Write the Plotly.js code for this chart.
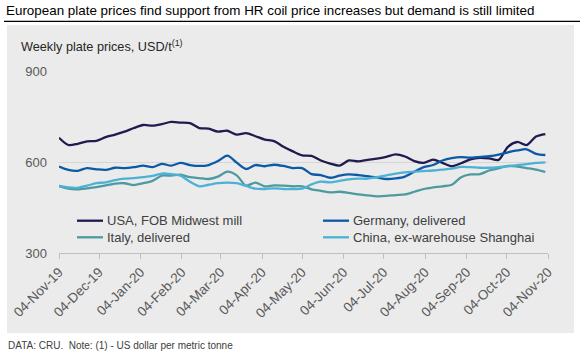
<!DOCTYPE html>
<html>
<head>
<meta charset="utf-8">
<script src="https://cdn.plot.ly/plotly-3.0.1.min.js"></script>
<style>html,body{margin:0;padding:0;background:#fff;}#chart{width:580px;height:354px;}</style>
</head>
<body>
<div id="chart"></div>
<script>
// ---- data ----
const startDate = '2019-11-04';
const weeks = 53;
const usa = [680,656,660,668,670,682,690,700,712,722,720,725,732,730,728,712,710,700,703,690,695,685,674,669,650,635,622,620,605,595,588,605,602,607,611,617,625,618,603,597,608,597,586,596,609,614,612,607,650,666,656,684,692];
const germany = [585,574,571,580,576,574,581,580,583,588,583,594,588,597,590,587,590,603,621,598,577,590,586,591,587,580,580,560,557,548,555,559,557,553,549,544,546,552,568,583,590,605,613,616,614,617,619,624,632,638,642,627,623];
const italy = [521,512,510,513,517,523,529,530,524,530,538,555,555,558,550,547,544,552,568,556,522,532,520,523,522,520,520,510,505,500,502,498,493,490,487,488,491,493,502,511,516,520,525,550,559,560,572,579,587,585,580,575,567];
const china = [521,516,515,522,530,533,540,545,547,550,554,562,560,555,535,520,525,530,532,530,521,512,511,513,511,511,512,526,535,533,538,543,545,545,550,556,562,566,568,570,572,575,578,584,583,581,581,583,586,590,593,597,599];
const seriesNames = ['USA, FOB Midwest mill','Germany, delivered','Italy, delivered','China, ex-warehouse Shanghai'];
const tickDates = ['2019-11-04','2019-12-04','2020-01-04','2020-02-04','2020-03-04','2020-04-04','2020-05-04','2020-06-04','2020-07-04','2020-08-04','2020-09-04','2020-10-04','2020-11-04'];
const tickLabels = ['04-Nov-19','04-Dec-19','04-Jan-20','04-Feb-20','04-Mar-20','04-Apr-20','04-May-20','04-Jun-20','04-Jul-20','04-Aug-20','04-Sep-20','04-Oct-20','04-Nov-20'];
const yTicks = [300,600,900];

// weekly dates
const dates = [];
{
  const d0 = new Date(startDate + 'T00:00:00Z');
  for (let i = 0; i < weeks; i++) {
    const d = new Date(d0.getTime() + i * 7 * 86400000);
    dates.push(d.toISOString().slice(0,10));
  }
}

const colors = ['#1f1b4e','#0c5aa6','#4e9aa0','#4cb1d4'];
const vals = [usa, germany, italy, china];
const traces = vals.map((v, i) => ({
  x: dates, y: v, name: seriesNames[i], type: 'scatter', mode: 'lines',
  line: {color: colors[i], width: 2.3, shape: 'spline', smoothing: 0.8},
  hoverinfo: 'skip', showlegend: false
}));

// pixel helpers for decoration placement
const W = 580, H = 354;
const mL = 59, mR = 32, mT = 71, mB = 101;
const pw = W - mL - mR, ph = H - mT - mB;
const px = x => (x - mL) / pw;
const py = y => (H - mB - y) / ph;

const font = 'Arial, "Liberation Sans", sans-serif';

// legend (2 columns x 2 rows) built from series names/colours
const legCols = [77, 323];
const legRows = [220.7, 237.3];
const legendShapes = [];
const legendAnn = [];
seriesNames.forEach((n, i) => {
  const c = legCols[i % 2], r = legRows[Math.floor(i / 2)];
  legendShapes.push({type: 'line', xref: 'paper', yref: 'paper', x0: px(c), x1: px(c + 26), y0: py(r), y1: py(r),
    line: {color: colors[i], width: 2.3}, layer: 'above'});
  legendAnn.push({text: n, xref: 'paper', yref: 'paper', x: px(c + 28), y: py(r), xanchor: 'left', yanchor: 'middle',
    showarrow: false, font: {family: font, size: 13, color: '#404040'}});
});

const layout = {
  width: W, height: H,
  margin: {l: mL, r: mR, t: mT, b: mB, pad: 0},
  paper_bgcolor: '#ffffff',
  plot_bgcolor: 'rgba(0,0,0,0)',
  font: {family: font, color: '#595959'},
  showlegend: false,
  xaxis: {
    type: 'date', range: [tickDates[0], tickDates[tickDates.length-1]],
    tickmode: 'array', tickvals: tickDates, ticktext: tickLabels,
    tickangle: -45, tickfont: {family: font, size: 13.5, color: '#595959'},
    showgrid: false, zeroline: false,
    showline: true, linecolor: '#bfbfbf', linewidth: 1,
    ticks: 'outside', ticklen: 5, tickcolor: '#bfbfbf', tickwidth: 1
  },
  yaxis: {
    range: [300, 900], tickmode: 'array', tickvals: yTicks,
    tickfont: {family: font, size: 13, color: '#595959'},
    showgrid: true, gridcolor: '#d6d6d6', gridwidth: 1,
    zeroline: false, showline: false, ticks: '', ticklabelstandoff: 11
  },
  shapes: [
    {type: 'rect', xref: 'paper', yref: 'paper', x0: px(7), x1: px(574), y0: py(333), y1: py(25),
     fillcolor: '#ebebeb', line: {width: 0}, layer: 'below'},
    {type: 'line', xref: 'paper', yref: 'paper', x0: px(4), x1: px(580), y0: py(21.3), y1: py(21.3),
     line: {color: '#000000', width: 1.3}, layer: 'above'}
  ].concat(legendShapes),
  annotations: [
    {text: 'European plate prices find support from HR coil price increases but demand is still limited',
     xref: 'paper', yref: 'paper', x: px(4), y: py(10.5), xanchor: 'left', yanchor: 'middle',
     showarrow: false, font: {family: font, size: 13.4, color: '#000000'}},
    {text: 'Weekly plate prices, USD/t<sup>(1)</sup>',
     xref: 'paper', yref: 'paper', x: px(19), y: py(46), xanchor: 'left', yanchor: 'middle',
     showarrow: false, font: {family: font, size: 12.7, color: '#262626'}},
    {text: 'DATA: CRU.  Note: (1) - US dollar per metric tonne',
     xref: 'paper', yref: 'paper', x: px(6), y: py(345), xanchor: 'left', yanchor: 'middle',
     showarrow: false, font: {family: font, size: 10, color: '#404040'}}
  ].concat(legendAnn)
};

Plotly.newPlot('chart', traces, layout, {displayModeBar: false, staticPlot: true});
</script>
</body>
</html>
